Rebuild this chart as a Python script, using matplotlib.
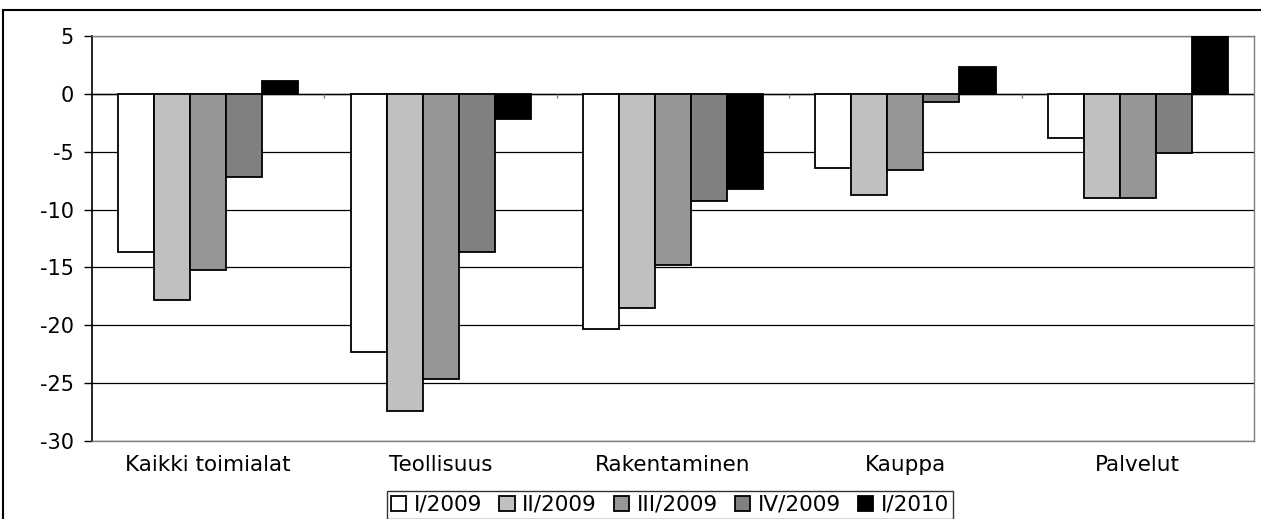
import numpy as np
import matplotlib.pyplot as plt
from matplotlib.patches import Rectangle

plt.rcParams['font.family'] = ['DejaVu Sans']

categories = ['Kaikki toimialat', 'Teollisuus', 'Rakentaminen', 'Kauppa', 'Palvelut']
series_names = ['I/2009', 'II/2009', 'III/2009', 'IV/2009', 'I/2010']
values = {
    'I/2009':   [-13.7, -22.3, -20.3, -6.4, -3.8],
    'II/2009':  [-17.8, -27.4, -18.5, -8.7, -9.0],
    'III/2009': [-15.2, -24.6, -14.8, -6.6, -9.0],
    'IV/2009':  [-7.2, -13.7, -9.3, -0.7, -5.1],
    'I/2010':   [1.1, -2.2, -8.2, 2.3, 5.0],
}
colors = ['#FFFFFF', '#C0C0C0', '#969696', '#808080', '#000000']
yticks = [5, 0, -5, -10, -15, -20, -25, -30]

fig = plt.figure(figsize=(12.61, 5.19), dpi=100)
ax = fig.add_axes([0.073, 0.1503, 0.9215, 0.7803])

# outer chart frame (partly cut off)
fig.patches.append(Rectangle((3 / 1261, -0.2), 1.2, 0.2 + (1 - 10 / 519),
                             transform=fig.transFigure, fill=False,
                             edgecolor='black', linewidth=1.5, zorder=0))

x = np.arange(len(categories))
w = 0.155
for i, name in enumerate(series_names):
    ax.bar(x + (i - 2) * w, values[name], width=w, color=colors[i],
           edgecolor='black', linewidth=1.3, label=name, zorder=3)

ax.set_xlim(-0.5, len(categories) - 0.5)
ax.set_ylim(-30, 5)
ax.set_yticks(yticks)
ax.set_yticklabels([str(t) for t in yticks], fontsize=15)
ax.yaxis.grid(True, color='black', linewidth=0.9, zorder=0)
ax.axhline(0, color='black', linewidth=1.0, zorder=2)

# category boundary ticks on the zero line
ax.vlines(np.arange(len(categories) - 1) + 0.5, -0.35, 0, color='#808080',
          linewidth=1.0, zorder=2)

ax.set_xticks(x)
ax.set_xticklabels(categories, fontsize=15.5)
ax.tick_params(axis='x', length=0, pad=10)
ax.tick_params(axis='y', length=6, width=1, direction='out', pad=7)

for s in ['top', 'right', 'bottom']:
    ax.spines[s].set_color('#808080')
    ax.spines[s].set_linewidth(1.0)
ax.spines['left'].set_color('black')
ax.spines['left'].set_linewidth(1.2)

leg = fig.legend(loc='center', bbox_to_anchor=(670 / 1261, 1 - 505 / 519),
                 ncol=5, fontsize=15.5, frameon=True, fancybox=False,
                 edgecolor='black', handlelength=0.7, handleheight=0.7,
                 handletextpad=0.35, columnspacing=0.8, borderpad=0.2,
                 borderaxespad=0)
leg.get_frame().set_linewidth(1.0)

fig.savefig('out.png', dpi=100)
